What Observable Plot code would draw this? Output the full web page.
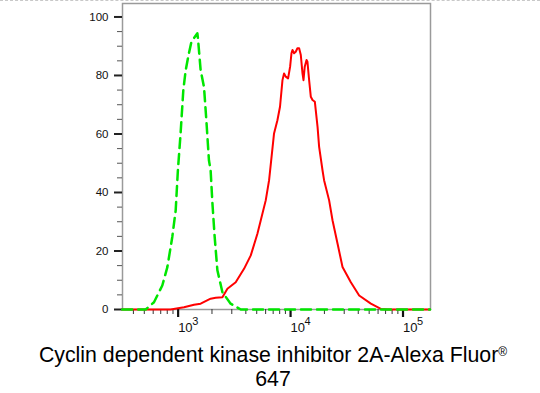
<!DOCTYPE html>
<html><head><meta charset="utf-8">
<script src="https://cdn.jsdelivr.net/npm/d3@7"></script>
<script src="https://cdn.jsdelivr.net/npm/@observablehq/plot@0.6"></script>
<style>
html,body{margin:0;padding:0;background:#fff;}
#wrap{width:540px;height:393px;position:relative;overflow:hidden;font-family:"Liberation Sans",Arial,sans-serif;}
#topline{position:absolute;left:0;top:0;width:540px;height:0;border-top:1px dashed #c8c8c8;}
#chart{position:absolute;left:0;top:0;}
#caption{position:absolute;left:3px;top:343px;width:540px;text-align:center;font-size:21.3px;line-height:24px;color:#000;}
#caption sup{font-size:12px;vertical-align:top;position:relative;top:-3px;}
</style></head><body>
<div id="wrap"><div id="chart"></div><div id="caption"></div><div id="topline"></div></div>
<script>
// Isotype control (green dashed)
const controlIntensity = [318, 514, 610, 723, 802, 887, 951, 995, 1052, 1112, 1167, 1247, 1312, 1483, 1500, 1585, 1698, 1782, 1879, 1945, 2018, 2113, 2234, 2477, 2931, 3606, 174000];
const controlCount     = [0, 0, 2.5, 8.2, 14.5, 24.8, 33.9, 47.6, 60.3, 75, 81.8, 87.6, 91.5, 94.4, 92.8, 81.8, 76.1, 64.7, 51.0, 47.6, 36.3, 24.8, 13.4, 5.9, 2.0, 0, 0];

// Cyclin dependent kinase inhibitor 2A stained sample (red)
const sampleIntensity = [318, 857, 1127, 1384, 1585, 1945, 2158, 2477, 2742, 3251, 3855, 4426, 5070, 5433, 6012, 6442, 7129, 7638, 8054, 8472, 8750, 9057, 9506, 9908, 10186, 10399, 10740, 11117, 11508, 11912, 12331, 12764, 13032, 13366, 13868, 14125, 14622, 15136, 15668, 16444, 17378, 17947, 19231, 19861, 22029, 23605, 26182, 28973, 34356, 40738, 51761, 63533, 72946, 174000];
const sampleCount     = [0, 0, 0.8, 1.6, 2.0, 3.7, 4.0, 4.2, 7.1, 9.3, 13.9, 18.5, 25.9, 30.5, 37.3, 44.2, 60.2, 64.7, 69.3, 78.4, 80.7, 79.6, 79.0, 83.0, 87.6, 88.7, 87.6, 88.1, 89.3, 89.3, 87.0, 80.7, 78.4, 83.0, 85.3, 84.7, 78.4, 72.7, 71.6, 71.0, 62.4, 55.6, 47.6, 44.2, 37.3, 30.5, 22.5, 14.5, 9.3, 4.8, 2.0, 0.2, 0, 0];

const yMajorTicks = [0, 20, 40, 60, 80, 100];
const yMinorTicks = [5, 10, 15, 25, 30, 35, 45, 50, 55, 65, 70, 75, 85, 90, 95];
const xMajorTicks = [1000, 10000, 100000];
const xMajorExponents = ["3", "4", "5"];
const xMinorTicks = [400, 500, 600, 700, 800, 900, 2000, 3000, 4000, 5000, 6000, 7000, 8000, 9000, 20000, 30000, 40000, 50000, 60000, 70000, 80000, 90000];
const captionMain = "Cyclin dependent kinase inhibitor 2A-Alexa Fluor";
const captionMark = "®";
const captionSecond = "647";

const control = controlIntensity.map((x, i) => ({x, y: controlCount[i]}));
const sample = sampleIntensity.map((x, i) => ({x, y: sampleCount[i]}));
const majors = xMajorTicks.map((x, i) => ({x, e: xMajorExponents[i]}));

const chart = Plot.plot({
  width: 540,
  height: 340,
  marginLeft: 122,
  marginRight: 110,
  marginTop: 3,
  marginBottom: 31,
  style: {fontFamily: "'Liberation Sans', Arial, sans-serif", fontSize: "11px", color: "#111", background: "transparent", overflow: "visible"},
  x: {type: "log", domain: [320, 175600]},
  y: {domain: [0, 104.6]},
  marks: [
    Plot.frame({stroke: "#9a9a9a", strokeWidth: 1.5}),
    Plot.axisY({ticks: yMinorTicks, tickSize: 5, stroke: "#555", strokeWidth: 1, tickFormat: () => "", label: null}),
    Plot.axisY({ticks: yMajorTicks, tickSize: 8, tickPadding: 6, stroke: "#222", strokeWidth: 2, fontSize: 11.5, label: null}),
    Plot.axisX({ticks: xMinorTicks, tickSize: 5, stroke: "#333", strokeWidth: 1, tickFormat: () => "", label: null}),
    Plot.axisX({ticks: xMajorTicks, tickSize: 8, stroke: "#111", strokeWidth: 2.2, tickFormat: () => "", label: null}),
    Plot.text(majors, {x: "x", frameAnchor: "bottom", dy: 22, text: () => "10", textAnchor: "start", fontSize: 13, fill: "#111"}),
    Plot.text(majors, {x: "x", frameAnchor: "bottom", dy: 15, dx: 14, text: "e", textAnchor: "start", fontSize: 11, fill: "#111"}),
    Plot.line(sample, {x: "x", y: "y", stroke: "#ff0000", strokeWidth: 2}),
    Plot.line(control, {x: "x", y: "y", stroke: "#00e600", strokeWidth: 2.5, strokeDasharray: "10,6"})
  ]
});
document.getElementById("chart").appendChild(chart);

const cap = document.getElementById("caption");
const l1 = document.createElement("div");
l1.textContent = captionMain;
const sup = document.createElement("sup");
sup.textContent = captionMark;
l1.appendChild(sup);
const l2 = document.createElement("div");
l2.textContent = captionSecond;
cap.appendChild(l1);
cap.appendChild(l2);
</script>
</body></html>
